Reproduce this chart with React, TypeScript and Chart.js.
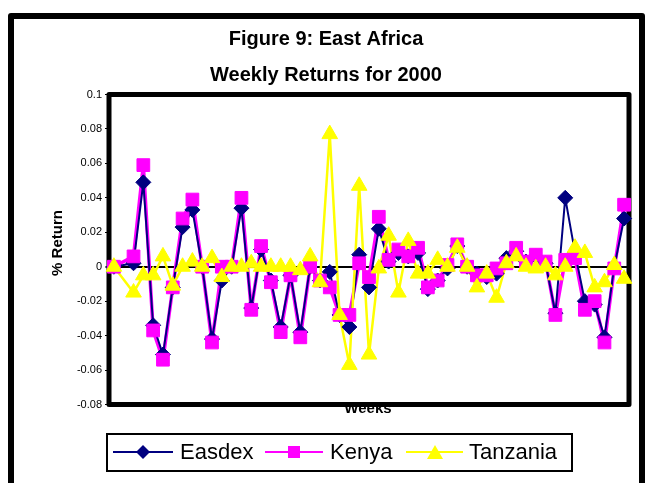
import React, { useEffect, useRef } from "react";
import { Chart, registerables } from "chart.js";

Chart.register(...registerables);

// ---- data ----
const weekLabels = [
  "1", "2", "3", "4", "5", "6", "7", "8", "9", "10",
  "11", "12", "13", "14", "15", "16", "17", "18", "19", "20",
  "21", "22", "23", "24", "25", "26", "27", "28", "29", "30",
  "31", "32", "33", "34", "35", "36", "37", "38", "39", "40",
  "41", "42", "43", "44", "45", "46", "47", "48", "49", "50",
  "51", "52", "53",
];

const easdex = [
  0, null, 0.002, 0.049, -0.034, -0.051, -0.012, 0.023, 0.033, 0,
  -0.042, -0.008, 0, 0.034, -0.024, 0.01, -0.008, -0.035, -0.005, -0.038,
  0, -0.008, -0.003, -0.028, -0.035, 0.007, -0.012, 0.022, 0.003, 0.008,
  0.006, 0.008, -0.013, -0.008, -0.001, 0.012, 0, -0.004, -0.006, -0.004,
  0.005, 0.009, 0.003, 0.006, 0.002, -0.027, 0.04, 0.008, -0.02, -0.022,
  -0.041, 0, 0.028,
];

const kenya = [
  0, null, 0.006, 0.059, -0.037, -0.054, -0.012, 0.028, 0.039, 0,
  -0.044, 0, 0, 0.04, -0.025, 0.012, -0.009, -0.038, -0.005, -0.041,
  0, -0.008, -0.012, -0.028, -0.028, 0.002, -0.006, 0.029, 0.004, 0.01,
  0.006, 0.011, -0.012, -0.008, 0.001, 0.013, 0, -0.005, -0.005, -0.001,
  0.002, 0.011, 0.003, 0.007, 0.003, -0.028, 0.004, 0.005, -0.025, -0.02,
  -0.044, -0.001, 0.036,
];

const tanzania = [
  0, null, -0.015, -0.005, -0.005, 0.006, -0.011, 0, 0.003, 0,
  0.005, -0.006, 0, 0, 0.002, 0, 0, 0, 0, -0.002,
  0.006, -0.009, 0.077, -0.028, -0.057, 0.047, -0.051, -0.001, 0.018, -0.015,
  0.015, -0.004, -0.004, 0.004, 0, 0.011, 0, -0.012, -0.004, -0.018,
  0.002, 0.006, 0, -0.001, 0, -0.005, 0, 0.011, 0.008, -0.012,
  -0.009, 0.001, -0.007,
];

const yTicks = [0.1, 0.08, 0.06, 0.04, 0.02, 0, -0.02, -0.04, -0.06, -0.08];
const seriesNames = ["Easdex", "Kenya", "Tanzania"];
const titleLines = ["Figure 9: East Africa", "Weekly Returns for 2000"];
const yAxisTitle = "% Return";
const xAxisTitle = "Weeks";

const FONT = "'Liberation Sans', Arial, Helvetica, sans-serif";
const NAVY = "#000080";
const MAGENTA = "#FF00FF";
const YELLOW = "#FFFF00";

function drawDiamond(ctx: CanvasRenderingContext2D, x: number, y: number, r: number, color: string) {
  ctx.beginPath();
  ctx.moveTo(x - r, y);
  ctx.lineTo(x, y - r);
  ctx.lineTo(x + r, y);
  ctx.lineTo(x, y + r);
  ctx.closePath();
  ctx.fillStyle = color;
  ctx.fill();
}
function drawSquare(ctx: CanvasRenderingContext2D, x: number, y: number, h: number, color: string) {
  ctx.fillStyle = color;
  ctx.fillRect(x - h, y - h, 2 * h, 2 * h);
}
function drawTriangle(ctx: CanvasRenderingContext2D, x: number, y: number, w: number, h: number, color: string) {
  ctx.beginPath();
  ctx.moveTo(x, y - h / 2);
  ctx.lineTo(x + w / 2, y + h / 2);
  ctx.lineTo(x - w / 2, y + h / 2);
  ctx.closePath();
  ctx.fillStyle = color;
  ctx.fill();
}

const framePlugin = {
  id: "excelFrame",
  beforeDraw(chart: any) {
    const ctx: CanvasRenderingContext2D = chart.ctx;
    ctx.save();
    ctx.fillStyle = "#ffffff";
    ctx.fillRect(0, 0, chart.width, chart.height);

    // outer frame (bottom cut off)
    ctx.strokeStyle = "#000";
    ctx.lineWidth = 6;
    ctx.lineJoin = "round";
    ctx.beginPath();
    ctx.moveTo(11, 500);
    ctx.lineTo(11, 16);
    ctx.lineTo(642, 16);
    ctx.lineTo(642, 500);
    ctx.stroke();

    // titles
    ctx.fillStyle = "#000";
    ctx.font = `bold 20px ${FONT}`;
    ctx.textAlign = "center";
    ctx.textBaseline = "alphabetic";
    ctx.fillText(titleLines[0], 326, 45);
    ctx.fillText(titleLines[1], 326, 81);

    // y axis title
    ctx.save();
    ctx.translate(58, 243);
    ctx.rotate(-Math.PI / 2);
    ctx.font = `bold 15px ${FONT}`;
    ctx.textAlign = "center";
    ctx.textBaseline = "middle";
    ctx.fillText(yAxisTitle, 0, 0);
    ctx.restore();

    // x axis title (partly hidden by plot border)
    ctx.font = `bold 15px ${FONT}`;
    ctx.textAlign = "center";
    ctx.textBaseline = "alphabetic";
    ctx.fillText(xAxisTitle, 368, 413);
    ctx.restore();
  },
  beforeDatasetsDraw(chart: any) {
    const ctx: CanvasRenderingContext2D = chart.ctx;
    const a = chart.chartArea;
    ctx.save();
    ctx.strokeStyle = "#000";
    ctx.lineWidth = 5;
    ctx.lineJoin = "round";
    ctx.strokeRect(a.left, a.top, a.right - a.left, a.bottom - a.top);
    ctx.restore();
  },
  afterDraw(chart: any) {
    const ctx: CanvasRenderingContext2D = chart.ctx;
    ctx.save();
    // legend box
    ctx.strokeStyle = "#000";
    ctx.lineWidth = 2;
    ctx.strokeRect(107, 434, 465, 37);
    const cy = 452;
    ctx.lineWidth = 2;
    // Easdex
    ctx.strokeStyle = NAVY;
    ctx.beginPath(); ctx.moveTo(113, cy); ctx.lineTo(173, cy); ctx.stroke();
    drawDiamond(ctx, 143, cy, 7, NAVY);
    // Kenya
    ctx.strokeStyle = MAGENTA;
    ctx.beginPath(); ctx.moveTo(265, cy); ctx.lineTo(323, cy); ctx.stroke();
    drawSquare(ctx, 294, cy, 6, MAGENTA);
    // Tanzania
    ctx.strokeStyle = YELLOW;
    ctx.beginPath(); ctx.moveTo(406, cy); ctx.lineTo(463, cy); ctx.stroke();
    drawTriangle(ctx, 435, cy, 16, 14, YELLOW);

    ctx.fillStyle = "#000";
    ctx.font = `22px ${FONT}`;
    ctx.textAlign = "left";
    ctx.textBaseline = "middle";
    ctx.fillText(seriesNames[0], 180, cy + 1);
    ctx.fillText(seriesNames[1], 330, cy + 1);
    ctx.fillText(seriesNames[2], 469, cy + 1);
    ctx.restore();
  },
};

export default function App() {
  const canvasRef = useRef<HTMLCanvasElement | null>(null);

  useEffect(() => {
    const canvas = canvasRef.current;
    if (!canvas) return;
    const lineBase = { pointRadius: 0, tension: 0, spanGaps: true, fill: false, borderJoinStyle: "round" };
    const pointBase = { showLine: false, pointBorderWidth: 1 };
    const chart = new Chart(canvas, {
      type: "line",
      data: {
        labels: weekLabels,
        datasets: [
          { ...lineBase, label: seriesNames[1] + " line", data: kenya, borderColor: MAGENTA, borderWidth: 3.5, order: 6 },
          { ...lineBase, label: seriesNames[0] + " line", data: easdex, borderColor: NAVY, borderWidth: 2, order: 5 },
          { ...lineBase, label: seriesNames[2] + " line", data: tanzania, borderColor: YELLOW, borderWidth: 2.5, order: 4 },
          { ...pointBase, label: seriesNames[0], data: easdex, pointStyle: "rectRot", pointRadius: 7.5, backgroundColor: NAVY, borderColor: NAVY, pointBackgroundColor: NAVY, pointBorderColor: NAVY, order: 3 },
          { ...pointBase, label: seriesNames[1], data: kenya, pointStyle: "rect", pointRadius: 9, backgroundColor: MAGENTA, borderColor: MAGENTA, pointBackgroundColor: MAGENTA, pointBorderColor: MAGENTA, order: 2 },
          { ...pointBase, label: seriesNames[2], data: tanzania, pointStyle: "triangle", pointRadius: 9, backgroundColor: YELLOW, borderColor: YELLOW, pointBackgroundColor: YELLOW, pointBorderColor: YELLOW, order: 1 },
        ],
      } as any,
      options: {
        responsive: false,
        maintainAspectRatio: false,
        devicePixelRatio: 1,
        animation: false,
        events: [],
        layout: { padding: { left: 0, right: 18, top: 94.5, bottom: 78.5 } },
        plugins: {
          legend: { display: false },
          title: { display: false },
          tooltip: { enabled: false },
        },
        scales: {
          x: {
            type: "category",
            display: false,
            offset: true,
          },
          y: {
            type: "linear",
            min: -0.08,
            max: 0.1,
            afterFit: (s: any) => { s.width = 109; },
            afterBuildTicks: (s: any) => { s.ticks = yTicks.map((v) => ({ value: v })); },
            ticks: {
              color: "#000",
              font: { family: FONT, size: 11 },
              padding: 3,
              callback: (v: any) => String(Math.round(Number(v) * 100) / 100),
            },
            grid: {
              drawOnChartArea: true,
              drawTicks: true,
              tickLength: 4,
              tickColor: "#000",
              tickWidth: 1,
              color: (c: any) => (c.tick && Math.abs(c.tick.value) < 1e-9 ? "#000" : "rgba(0,0,0,0)"),
              lineWidth: (c: any) => (c.tick && Math.abs(c.tick.value) < 1e-9 ? 2 : 1),
            },
            border: { display: false },
          },
        },
      } as any,
      plugins: [framePlugin],
    });
    return () => chart.destroy();
  }, []);

  return (
    <div style={{ position: "fixed", left: 0, top: 0, width: 647, height: 483, background: "#fff", overflow: "hidden" }}>
      <canvas ref={canvasRef} width={647} height={483} style={{ display: "block", width: 647, height: 483 }} />
    </div>
  );
}
